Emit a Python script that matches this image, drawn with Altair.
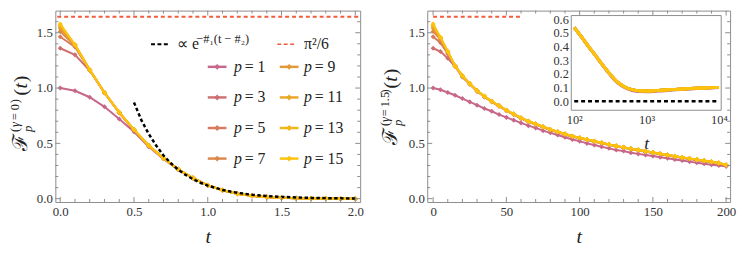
import altair as alt
import pandas as pd

# ---------------- data ----------------
P_VALUES = [1, 3, 5, 7, 9, 11, 13, 15]
P_COLORS = ["#C7678A", "#CE6F72", "#D57C5F", "#DB894B", "#E29936", "#EAA826", "#F3B61A", "#FDC30C"]
RED = "#F25C3C"
FRAME = "#8c8c8c"
TXT = "#222222"
SERIF = "Liberation Serif"
PI2_6 = 1.645

T_LEFT = [0.0, 0.1, 0.2, 0.3, 0.4, 0.5, 0.6, 0.7, 0.8, 0.9, 1.0,
          1.1, 1.2, 1.3, 1.4, 1.5, 1.6, 1.7, 1.8, 1.9, 2.0]
LEFT_F = {
    1:  [1.000, 0.975, 0.917, 0.830, 0.720, 0.605, 0.470, 0.360, 0.263, 0.185, 0.120, 0.075, 0.045, 0.025, 0.014, 0.008, 0.004, 0.002, 0.001, 0.000, 0.000],
    3:  [1.360, 1.300, 1.158, 0.955, 0.775, 0.618, 0.478, 0.364, 0.265, 0.187, 0.121, 0.076, 0.045, 0.026, 0.014, 0.008, 0.004, 0.002, 0.001, 0.000, 0.000],
    5:  [1.464, 1.372, 1.162, 0.958, 0.778, 0.620, 0.479, 0.365, 0.265, 0.187, 0.121, 0.076, 0.045, 0.026, 0.014, 0.008, 0.004, 0.002, 0.001, 0.000, 0.000],
    7:  [1.512, 1.385, 1.164, 0.959, 0.779, 0.622, 0.480, 0.365, 0.265, 0.187, 0.121, 0.076, 0.045, 0.026, 0.014, 0.008, 0.004, 0.002, 0.001, 0.000, 0.000],
    9:  [1.540, 1.389, 1.165, 0.960, 0.780, 0.623, 0.480, 0.365, 0.265, 0.187, 0.121, 0.076, 0.045, 0.026, 0.014, 0.008, 0.004, 0.002, 0.001, 0.000, 0.000],
    11: [1.558, 1.390, 1.165, 0.960, 0.780, 0.624, 0.480, 0.365, 0.265, 0.187, 0.121, 0.076, 0.045, 0.026, 0.014, 0.008, 0.004, 0.002, 0.001, 0.000, 0.000],
    13: [1.570, 1.391, 1.165, 0.960, 0.780, 0.625, 0.480, 0.365, 0.265, 0.187, 0.121, 0.076, 0.045, 0.026, 0.014, 0.008, 0.004, 0.002, 0.001, 0.000, 0.000],
    15: [1.580, 1.392, 1.165, 0.960, 0.780, 0.625, 0.480, 0.365, 0.265, 0.187, 0.121, 0.076, 0.045, 0.026, 0.014, 0.008, 0.004, 0.002, 0.001, 0.000, 0.000],
}
FIT_T = [0.5, 0.55, 0.6, 0.65, 0.7, 0.75, 0.8, 0.85, 0.9, 0.95, 1.0,
         1.1, 1.2, 1.3, 1.4, 1.5, 1.6, 1.7, 1.8, 1.9, 2.0]
FIT_V = [0.87, 0.71, 0.585, 0.48, 0.39, 0.32, 0.262, 0.215, 0.176, 0.144, 0.118,
         0.079, 0.053, 0.035, 0.024, 0.016, 0.011, 0.007, 0.005, 0.003, 0.002]

T_RIGHT = [0, 5, 10, 15, 20, 25, 30, 35, 40, 45, 50, 55, 60, 65, 70, 75, 80, 85, 90, 95, 100,
           105, 110, 115, 120, 125, 130, 135, 140, 145, 150, 155, 160, 165, 170, 175, 180, 185, 190, 195, 200]
RIGHT_F = {
    1:  [1.000, 0.985, 0.960, 0.935, 0.905, 0.875, 0.845, 0.815, 0.790, 0.760, 0.735, 0.710, 0.685, 0.660, 0.640, 0.615, 0.595, 0.575, 0.555, 0.535, 0.520,
         0.500, 0.485, 0.470, 0.455, 0.440, 0.430, 0.415, 0.405, 0.395, 0.385, 0.375, 0.365, 0.355, 0.345, 0.335, 0.325, 0.315, 0.307, 0.300, 0.292],
    3:  [1.360, 1.330, 1.270, 1.195, 1.100, 1.035, 0.970, 0.920, 0.875, 0.835, 0.795, 0.760, 0.725, 0.695, 0.670, 0.645, 0.620, 0.600, 0.580, 0.560, 0.545,
         0.530, 0.515, 0.500, 0.485, 0.472, 0.459, 0.447, 0.435, 0.423, 0.412, 0.401, 0.390, 0.379, 0.368, 0.358, 0.348, 0.338, 0.328, 0.318, 0.301],
    5:  [1.464, 1.410, 1.310, 1.200, 1.105, 1.038, 0.973, 0.923, 0.878, 0.838, 0.798, 0.763, 0.728, 0.698, 0.673, 0.648, 0.623, 0.603, 0.583, 0.563, 0.548,
         0.533, 0.518, 0.503, 0.488, 0.475, 0.462, 0.450, 0.438, 0.426, 0.415, 0.404, 0.393, 0.382, 0.371, 0.361, 0.351, 0.341, 0.331, 0.321, 0.303],
    7:  [1.512, 1.440, 1.320, 1.200, 1.108, 1.040, 0.975, 0.925, 0.880, 0.840, 0.800, 0.765, 0.730, 0.700, 0.675, 0.650, 0.625, 0.605, 0.585, 0.565, 0.550,
         0.535, 0.520, 0.505, 0.490, 0.477, 0.464, 0.452, 0.440, 0.428, 0.417, 0.406, 0.395, 0.384, 0.373, 0.363, 0.353, 0.343, 0.333, 0.323, 0.305],
    9:  [1.540, 1.450, 1.325, 1.200, 1.110, 1.040, 0.975, 0.925, 0.880, 0.840, 0.800, 0.765, 0.730, 0.700, 0.675, 0.650, 0.625, 0.605, 0.585, 0.565, 0.550,
         0.535, 0.520, 0.505, 0.490, 0.477, 0.464, 0.452, 0.440, 0.428, 0.417, 0.406, 0.395, 0.384, 0.373, 0.363, 0.353, 0.343, 0.333, 0.323, 0.305],
    11: [1.558, 1.455, 1.330, 1.200, 1.110, 1.040, 0.975, 0.925, 0.880, 0.840, 0.800, 0.765, 0.730, 0.700, 0.675, 0.650, 0.625, 0.605, 0.585, 0.565, 0.550,
         0.535, 0.520, 0.505, 0.490, 0.477, 0.464, 0.452, 0.440, 0.428, 0.417, 0.406, 0.395, 0.384, 0.373, 0.363, 0.353, 0.343, 0.333, 0.323, 0.305],
    13: [1.570, 1.458, 1.330, 1.200, 1.110, 1.040, 0.975, 0.925, 0.880, 0.840, 0.800, 0.765, 0.730, 0.700, 0.675, 0.650, 0.625, 0.605, 0.585, 0.565, 0.550,
         0.535, 0.520, 0.505, 0.490, 0.477, 0.464, 0.452, 0.440, 0.428, 0.417, 0.406, 0.395, 0.384, 0.373, 0.363, 0.353, 0.343, 0.333, 0.323, 0.305],
    15: [1.580, 1.460, 1.330, 1.200, 1.110, 1.040, 0.975, 0.925, 0.880, 0.840, 0.800, 0.765, 0.730, 0.700, 0.675, 0.650, 0.625, 0.605, 0.585, 0.565, 0.550,
         0.535, 0.520, 0.505, 0.490, 0.477, 0.464, 0.452, 0.440, 0.428, 0.417, 0.406, 0.395, 0.384, 0.373, 0.363, 0.353, 0.343, 0.333, 0.323, 0.305],
}
RED_RIGHT_T = [0, 60]

T_INSET = [100, 126, 158, 200, 251, 316, 398, 501, 631, 794, 1000,
           1259, 1585, 1995, 2512, 3162, 3981, 5012, 6310, 7943, 10000]
INSET_P1 = [0.538, 0.468, 0.398, 0.328, 0.257, 0.191, 0.135, 0.099, 0.079, 0.071, 0.070,
            0.072, 0.076, 0.080, 0.084, 0.087, 0.090, 0.093, 0.096, 0.098, 0.100]
INSET_REST = [0.540, 0.470, 0.400, 0.330, 0.260, 0.195, 0.140, 0.105, 0.085, 0.077, 0.076,
              0.078, 0.081, 0.084, 0.087, 0.090, 0.093, 0.096, 0.098, 0.100, 0.102]

LEFT_X_MAJOR = [0.0, 0.5, 1.0, 1.5, 2.0]
LEFT_X_MINOR = [0.1, 0.2, 0.3, 0.4, 0.6, 0.7, 0.8, 0.9, 1.1, 1.2, 1.3, 1.4, 1.6, 1.7, 1.8, 1.9]
RIGHT_X_MAJOR = [0, 50, 100, 150, 200]
RIGHT_X_MINOR = [10, 20, 30, 40, 60, 70, 80, 90, 110, 120, 130, 140, 160, 170, 180, 190]
Y_MAJOR = [0.0, 0.5, 1.0, 1.5]
Y_MINOR = [0.1, 0.2, 0.3, 0.4, 0.6, 0.7, 0.8, 0.9, 1.1, 1.2, 1.3, 1.4, 1.6]
INSET_Y_TICKS = [0.0, 0.1, 0.2, 0.3, 0.4, 0.5, 0.6]
INSET_X_TICKS = [100, 1000, 10000]

# ---------------- geometry ----------------
WL, WR, H = 309, 307, 194
LEFT_XDOM = [-0.033, 2.033]
RIGHT_XDOM = [-4.0, 202.7]
YDOM = [-0.03, 1.70]


def x_axis(values, fmt):
    return alt.Axis(orient="bottom", values=values, format=fmt, ticks=False, domain=False, grid=False,
                    labelFont=SERIF, labelFontSize=13, labelColor="#333", labelPadding=4,
                    title="t", titleFont=SERIF, titleFontSize=20, titleFontStyle="italic",
                    titleFontWeight="normal", titleColor=TXT, titlePadding=8)


def y_axis():
    return alt.Axis(orient="left", values=Y_MAJOR, format=".1f", ticks=False, domain=False, grid=False,
                    labelFont=SERIF, labelFontSize=13, labelColor="#333", labelPadding=3, title=None)


def panel_parts(xdom, xmaj, xmin, xfmt, W, series, tvals):
    X = lambda: alt.X("t:Q", scale=alt.Scale(domain=xdom, nice=False, zero=False), axis=x_axis(xmaj, xfmt))
    Y = lambda: alt.Y("v:Q", scale=alt.Scale(domain=YDOM, nice=False, zero=False), axis=y_axis())
    layers = []
    for p, col in zip(P_VALUES, P_COLORS):
        d = pd.DataFrame({"t": tvals, "v": series[p]})
        base = alt.Chart(d)
        layers.append(base.mark_line(color=col, strokeWidth=2).encode(x=X(), y=Y()))
        layers.append(base.mark_point(shape="diamond", filled=True, color=col, size=26, opacity=1).encode(x=X(), y=Y()))
    ticks = []
    for vals, L in ((xmaj, 5), (xmin, 3)):
        b = alt.Chart(pd.DataFrame({"t": vals})).mark_rule(color=FRAME, strokeWidth=1)
        ticks.append(b.encode(x=X(), y=alt.value(H), y2=alt.value(H - L)))
        ticks.append(b.encode(x=X(), y=alt.value(0), y2=alt.value(L)))
    for vals, L in ((Y_MAJOR, 5), (Y_MINOR, 3)):
        b = alt.Chart(pd.DataFrame({"v": vals})).mark_rule(color=FRAME, strokeWidth=1)
        ticks.append(b.encode(y=Y(), x=alt.value(0), x2=alt.value(L)))
        ticks.append(b.encode(y=Y(), x=alt.value(W), x2=alt.value(W - L)))
    return X, Y, layers, ticks


def title_layers(sup_parts, xb, y0):
    # pieces: (text, size, italic, perpendicular offset, advance)
    pieces = [("\u2131", 21, False, 0, 19)]
    pieces.append(("p", 13, True, 5, 0))
    for txt, italic, adv in sup_parts:
        pieces.append((txt, 12.5, italic, -8, adv))
    pieces += [("(", 20, False, 0, 7), ("t", 20, True, 0, 6.5), (")", 20, False, 0, 7)]
    rows = []
    y = y0
    for txt, fs, it, dx, adv in pieces:
        rows.append({"s": txt, "fs": fs, "it": it, "px": xb + dx, "py": y})
        y -= adv
    df = pd.DataFrame(rows)
    out = []
    for it in (False, True):
        sub = df[df["it"] == it]
        out.append(alt.Chart(sub).mark_text(angle=270, align="left", baseline="alphabetic", font=SERIF,
                                            fontStyle="italic" if it else "normal", color=TXT).encode(
            x=alt.X("px:Q", scale=None, axis=None), y=alt.Y("py:Q", scale=None, axis=None),
            text="s:N", size=alt.Size("fs:Q", scale=None, legend=None)))
    return out


# ---------------- left panel ----------------
XL, YL, left_series, left_ticks = panel_parts(LEFT_XDOM, LEFT_X_MAJOR, LEFT_X_MINOR, ".1f", WL, LEFT_F, T_LEFT)
red_left = alt.Chart(pd.DataFrame({"t": [-0.02, 2.02], "v": [PI2_6, PI2_6]})).mark_line(
    color=RED, strokeWidth=2, strokeDash=[4, 3]).encode(x=XL(), y=YL())
fit = alt.Chart(pd.DataFrame({"t": FIT_T, "v": FIT_V})).mark_line(
    color="black", strokeWidth=2.5, strokeDash=[3.5, 2.5]).encode(x=XL(), y=YL())

# legend (pixel layout inside the left plot)
leg_rows = []
for i, (p, col) in enumerate(zip(P_VALUES, P_COLORS)):
    c, r = i // 4, i % 4
    cx = [164, 237][c]
    tx = [181, 252][c]
    yy = 57 + 31 * r
    leg_rows.append({"p": p, "col": col, "x1": cx - 9.5, "x2": cx + 9.5, "cx": cx, "tx": tx, "ex": tx + 11,
                     "y": yy, "eq": "= %d" % p})
leg = pd.DataFrame(leg_rows)
cscale = alt.Scale(domain=P_VALUES, range=P_COLORS)
LX = lambda f: alt.X(f, scale=None, axis=None)
LY = lambda f: alt.Y(f, scale=None, axis=None)
legend_layers = [
    alt.Chart(leg).mark_rule(strokeWidth=2.5).encode(x=LX("x1:Q"), x2="x2:Q", y=LY("y:Q"),
                                                     color=alt.Color("p:O", scale=cscale, legend=None)),
    alt.Chart(leg).mark_point(shape="diamond", filled=True, size=36, opacity=1).encode(
        x=LX("cx:Q"), y=LY("y:Q"), color=alt.Color("p:O", scale=cscale, legend=None)),
    alt.Chart(leg).mark_text(align="left", baseline="middle", font=SERIF, fontSize=16, fontStyle="italic",
                             color=TXT).encode(x=LX("tx:Q"), y=LY("y:Q"), text=alt.value("p")),
    alt.Chart(leg).mark_text(align="left", baseline="middle", font=SERIF, fontSize=16, color=TXT).encode(
        x=LX("ex:Q"), y=LY("y:Q"), text="eq:N"),
]
ROW0 = 34
top_leg = pd.DataFrame({"x1": [97, 225], "x2": [114, 242], "y": [ROW0, ROW0], "k": ["fit", "pi"]})
legend_layers += [
    alt.Chart(top_leg[top_leg.k == "fit"]).mark_rule(color="black", strokeWidth=2, strokeDash=[4, 2.5]).encode(
        x=LX("x1:Q"), x2="x2:Q", y=LY("y:Q")),
    alt.Chart(top_leg[top_leg.k == "pi"]).mark_rule(color=RED, strokeWidth=1.5, strokeDash=[4, 2.5]).encode(
        x=LX("x1:Q"), x2="x2:Q", y=LY("y:Q")),
    alt.Chart(pd.DataFrame({"x": [123.5], "y": [ROW0], "s": ["\u221d e"]})).mark_text(
        align="left", baseline="middle", font=SERIF, fontSize=16, color=TXT).encode(
        x=LX("x:Q"), y=LY("y:Q"), text="s:N"),
    alt.Chart(pd.DataFrame({"x": [143], "y": [ROW0 - 5.5], "s": ["\u2212#\u2081(t \u2212 #\u2082)"]})).mark_text(
        align="left", baseline="middle", font=SERIF, fontSize=12.5, color=TXT).encode(
        x=LX("x:Q"), y=LY("y:Q"), text="s:N"),
    alt.Chart(pd.DataFrame({"x": [252], "y": [ROW0], "s": ["\u03c0\u00b2/6"]})).mark_text(
        align="left", baseline="middle", font=SERIF, fontSize=16, color=TXT).encode(
        x=LX("x:Q"), y=LY("y:Q"), text="s:N"),
]

left_title = title_layers([("(", False, 5), ("\u03b3", True, 7), ("=", False, 10), ("0", False, 7), (")", False, 8)],
                          -29, 142)

left = alt.layer(red_left, *left_series, fit, *left_ticks, *legend_layers, *left_title).properties(
    width=WL, height=H)

# ---------------- right panel ----------------
XR, YR, right_series, right_ticks = panel_parts(RIGHT_XDOM, RIGHT_X_MAJOR, RIGHT_X_MINOR, "d", WR, RIGHT_F, T_RIGHT)
red_right = alt.Chart(pd.DataFrame({"t": RED_RIGHT_T, "v": [PI2_6, PI2_6]})).mark_line(
    color=RED, strokeWidth=2, strokeDash=[4, 3]).encode(x=XR(), y=YR())
right_title = title_layers([("(", False, 4), ("\u03b3", True, 6), ("=", False, 9), ("1.5", False, 14), (")", False, 5)],
                           -31, 136)
main_right = alt.layer(red_right, *right_series, *right_ticks, *right_title)

# inset
IN_XDOM = [91, 10750]
IN_YDOM = [-0.065, 0.626]
IN_BOTTOM, IN_TOP = 101, 5
XI = lambda: alt.X("t:Q", scale=alt.Scale(type="log", domain=IN_XDOM, range=[146, 298], nice=False),
                   axis=alt.Axis(orient="bottom", offset=-(H - IN_BOTTOM), values=INSET_X_TICKS,
                                 labelExpr="datum.value == 100 ? '10\u00b2' : datum.value == 1000 ? '10\u00b3' : '10\u2074'",
                                 ticks=False, domain=False, grid=False, labelFont=SERIF, labelFontSize=12.5,
                                 labelColor="#333", labelPadding=3, title="t", titleFont=SERIF, titleFontSize=18,
                                 titleFontStyle="italic", titleFontWeight="normal", titleColor=TXT, titlePadding=9))
YI = lambda: alt.Y("v:Q", scale=alt.Scale(domain=IN_YDOM, range=[IN_BOTTOM, IN_TOP], nice=False, zero=False),
                   axis=alt.Axis(orient="left", offset=-146, values=INSET_Y_TICKS, format=".1f", ticks=False,
                                 domain=False, grid=False, labelFont=SERIF, labelFontSize=12.5, labelColor="#333",
                                 labelPadding=3, title=None))
inset_bg = alt.Chart(pd.DataFrame({"t": [IN_XDOM[0]], "t2": [IN_XDOM[1]], "v": [IN_YDOM[0]], "v2": [IN_YDOM[1]]})).mark_rect(
    fill="white", stroke=FRAME, strokeWidth=1).encode(x=XI(), x2="t2:Q", y=YI(), y2="v2:Q")
inset_zero = alt.Chart(pd.DataFrame({"t": [100, 10000], "v": [0.0, 0.0]})).mark_line(
    color="black", strokeWidth=2.5, strokeDash=[4, 3]).encode(x=XI(), y=YI())
inset_lines = []
for p, col in zip(P_VALUES, P_COLORS):
    vals = INSET_P1 if p == 1 else INSET_REST
    inset_lines.append(alt.Chart(pd.DataFrame({"t": T_INSET, "v": vals})).mark_line(
        color=col, strokeWidth=3, interpolate="monotone").encode(x=XI(), y=YI()))
inset = alt.layer(inset_bg, inset_zero, *inset_lines)

right = alt.layer(main_right, inset).resolve_scale(x="independent", y="independent").properties(width=WR, height=H)

chart = alt.hconcat(left, right, spacing=68, bounds="flush").properties(padding=0).configure_view(
    stroke=FRAME, strokeWidth=1).configure_axis(labelFont=SERIF, titleFont=SERIF)

chart.save("out.html", embed_options={"renderer": "svg", "actions": False})
